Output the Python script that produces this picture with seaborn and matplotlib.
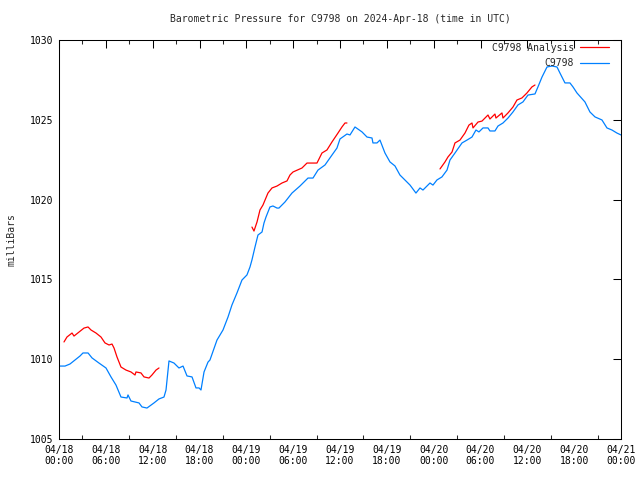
import matplotlib
matplotlib.use("Agg")
import matplotlib.pyplot as plt
import matplotlib.dates as mdates
from matplotlib.lines import Line2D
import seaborn as sns
import pandas as pd

# Observed station pressure (hours since 2024-04-18 00:00 UTC, mb)
obs_hours = [0.00, 0.77, 1.41, 2.05, 2.69, 3.07, 3.72, 4.23, 5.12, 6.02, 6.66, 7.30,
             7.94, 8.71, 8.84, 9.22, 10.25, 10.63, 11.27, 12.17, 12.81, 13.45, 13.71,
             14.09, 14.73, 15.12, 15.37, 15.89, 16.40, 17.04, 17.55, 17.94, 18.19,
             18.58, 19.09, 19.34, 20.24, 21.01, 21.65, 22.16, 22.80, 23.44, 24.08,
             24.47, 24.72, 25.11, 25.49, 26.01, 26.26, 26.52, 27.03, 27.41, 27.93,
             28.18, 28.95, 29.85, 30.87, 31.90, 32.54, 33.18, 34.08, 34.97, 35.61,
             36.00, 36.89, 37.28, 37.92, 38.82, 39.46, 40.10, 40.22, 40.74, 41.12,
             41.76, 42.40, 43.04, 43.68, 44.07, 44.97, 45.73, 46.25, 46.63, 47.53,
             47.91, 48.42, 49.06, 49.71, 50.09, 50.73, 51.63, 52.27, 52.91, 53.42,
             53.80, 54.32, 54.96, 55.21, 55.85, 56.24, 56.88, 57.52, 58.16, 58.80,
             59.44, 60.08, 60.98, 61.36, 61.88, 62.52, 63.16, 63.80, 64.18, 64.82,
             65.46, 65.85, 66.36, 67.38, 68.02, 68.67, 69.56, 70.20, 70.84, 71.48, 72.00]
obs_mb = [1009.57, 1009.57, 1009.70, 1009.95, 1010.20, 1010.39, 1010.39, 1010.08, 1009.76,
          1009.45, 1008.89, 1008.38, 1007.63, 1007.57, 1007.76, 1007.38, 1007.26, 1007.01,
          1006.94, 1007.26, 1007.51, 1007.63, 1008.07, 1009.89, 1009.76, 1009.57, 1009.45,
          1009.57, 1008.95, 1008.89, 1008.20, 1008.20, 1008.07, 1009.20, 1009.82, 1009.95,
          1011.20, 1011.83, 1012.64, 1013.40, 1014.15, 1014.96, 1015.28, 1015.78, 1016.22,
          1017.03, 1017.78, 1017.97, 1018.53, 1018.91, 1019.54, 1019.60, 1019.47, 1019.47,
          1019.85, 1020.41, 1020.85, 1021.35, 1021.35, 1021.85, 1022.17, 1022.79, 1023.23,
          1023.80, 1024.11, 1024.05, 1024.55, 1024.24, 1023.92, 1023.86, 1023.55, 1023.55,
          1023.73, 1022.92, 1022.36, 1022.11, 1021.54, 1021.35, 1020.91, 1020.41, 1020.73,
          1020.60, 1021.04, 1020.91, 1021.23, 1021.42, 1021.85, 1022.48, 1022.92, 1023.55,
          1023.73, 1023.92, 1024.36, 1024.24, 1024.49, 1024.49, 1024.30, 1024.30, 1024.61,
          1024.80, 1025.11, 1025.49, 1025.93, 1026.12, 1026.55, 1026.62, 1027.06, 1027.68,
          1028.31, 1028.37, 1028.31, 1027.93, 1027.31, 1027.31, 1027.06, 1026.68, 1026.12,
          1025.49, 1025.18, 1024.99, 1024.49, 1024.36, 1024.17, 1024.05]

# Analysis pressure, three separate runs
ana1_hours = [0.64, 1.02, 1.67, 1.92, 2.56, 3.20, 3.72, 4.10, 4.74, 5.38, 5.89, 6.41, 6.79,
              7.05, 7.43, 7.94, 8.58, 9.22, 9.74, 9.86, 10.50, 10.89, 11.53, 11.91, 12.43, 12.81]
ana1_mb = [1011.08, 1011.39, 1011.64, 1011.45, 1011.70, 1011.95, 1012.02, 1011.83, 1011.64,
           1011.39, 1011.02, 1010.89, 1010.95, 1010.70, 1010.14, 1009.51, 1009.32, 1009.20,
           1009.01, 1009.20, 1009.14, 1008.89, 1008.82, 1009.01, 1009.32, 1009.45]
ana2_hours = [24.72, 24.98, 25.37, 25.75, 26.13, 26.77, 27.29, 27.93, 28.57, 29.21, 29.59,
              29.98, 31.13, 31.77, 32.41, 33.05, 33.69, 34.33, 34.97, 35.74, 36.25, 36.64, 36.89]
ana2_mb = [1018.28, 1018.03, 1018.60, 1019.35, 1019.66, 1020.41, 1020.73, 1020.85, 1021.04,
           1021.17, 1021.54, 1021.73, 1021.98, 1022.29, 1022.29, 1022.29, 1022.92, 1023.11,
           1023.61, 1024.17, 1024.55, 1024.80, 1024.80]
ana3_hours = [48.81, 49.45, 49.83, 50.35, 50.73, 51.37, 52.01, 52.52, 52.91, 53.04, 53.68,
              54.19, 54.96, 55.21, 55.85, 55.98, 56.75, 56.88, 57.52, 58.16, 58.67, 59.31,
              59.95, 60.59, 60.98]
ana3_mb = [1021.92, 1022.36, 1022.67, 1022.98, 1023.55, 1023.73, 1024.17, 1024.67, 1024.80,
           1024.49, 1024.86, 1024.92, 1025.30, 1025.05, 1025.36, 1025.11, 1025.43, 1025.11,
           1025.43, 1025.80, 1026.24, 1026.37, 1026.68, 1027.06, 1027.18]

start = pd.Timestamp("2024-04-18 00:00")
red = "#ff0000"
blue = "#0080ff"
fs = 7

obs = pd.DataFrame({"time": start + pd.to_timedelta(obs_hours, unit="h"), "mb": obs_mb})
parts = []
for k, (h, v) in enumerate([(ana1_hours, ana1_mb), (ana2_hours, ana2_mb), (ana3_hours, ana3_mb)]):
    parts.append(pd.DataFrame({"time": start + pd.to_timedelta(h, unit="h"), "mb": v, "seg": k}))
ana = pd.concat(parts, ignore_index=True)

sns.set_theme(style="white")
plt.rcParams["font.family"] = ["DejaVu Sans Mono"]
plt.rcParams["axes.linewidth"] = 0.75

fig = plt.figure(figsize=(6.4, 4.8), dpi=100)
ax = fig.add_axes([59 / 640, 41 / 480, 562 / 640, 399 / 480])

sns.lineplot(data=ana, x="time", y="mb", units="seg", estimator=None, color=red,
             linewidth=0.9, ax=ax)
sns.lineplot(data=obs, x="time", y="mb", color=blue, linewidth=0.9, ax=ax)

ax.set_xlim(start, start + pd.Timedelta(hours=72))
ax.set_ylim(1005, 1030)
ax.set_yticks([1005, 1010, 1015, 1020, 1025, 1030])
ax.xaxis.set_major_locator(mdates.HourLocator(byhour=[0, 6, 12, 18]))
ax.xaxis.set_minor_locator(mdates.HourLocator(byhour=[3, 9, 15, 21]))
ax.xaxis.set_major_formatter(mdates.DateFormatter("%m/%d\n%H:%M"))
ax.tick_params(axis="both", which="major", direction="in", length=6, width=0.75,
               top=True, right=True, labelsize=fs, colors="black", pad=4)
ax.tick_params(axis="x", which="minor", direction="in", length=3, width=0.75,
               top=True, bottom=True)
for sp in ax.spines.values():
    sp.set_color("black")

ax.set_xlabel("")
ax.set_ylabel("milliBars", fontsize=fs, labelpad=10)
ax.set_title("Barometric Pressure for C9798 on 2024-Apr-18 (time in UTC)", fontsize=fs, pad=13)

handles = [Line2D([], [], color=red, linewidth=0.9), Line2D([], [], color=blue, linewidth=0.9)]
ax.legend(handles, ["C9798 Analysis", "C9798"], loc="upper right", frameon=False,
          bbox_to_anchor=(1 - 7 / 562, 1 + 2 / 399),
          markerfirst=False, fontsize=fs, handlelength=3.0, handletextpad=0.6,
          labelspacing=0.55, borderaxespad=0.2, borderpad=0.3)

fig.savefig("out.png", dpi=100)
